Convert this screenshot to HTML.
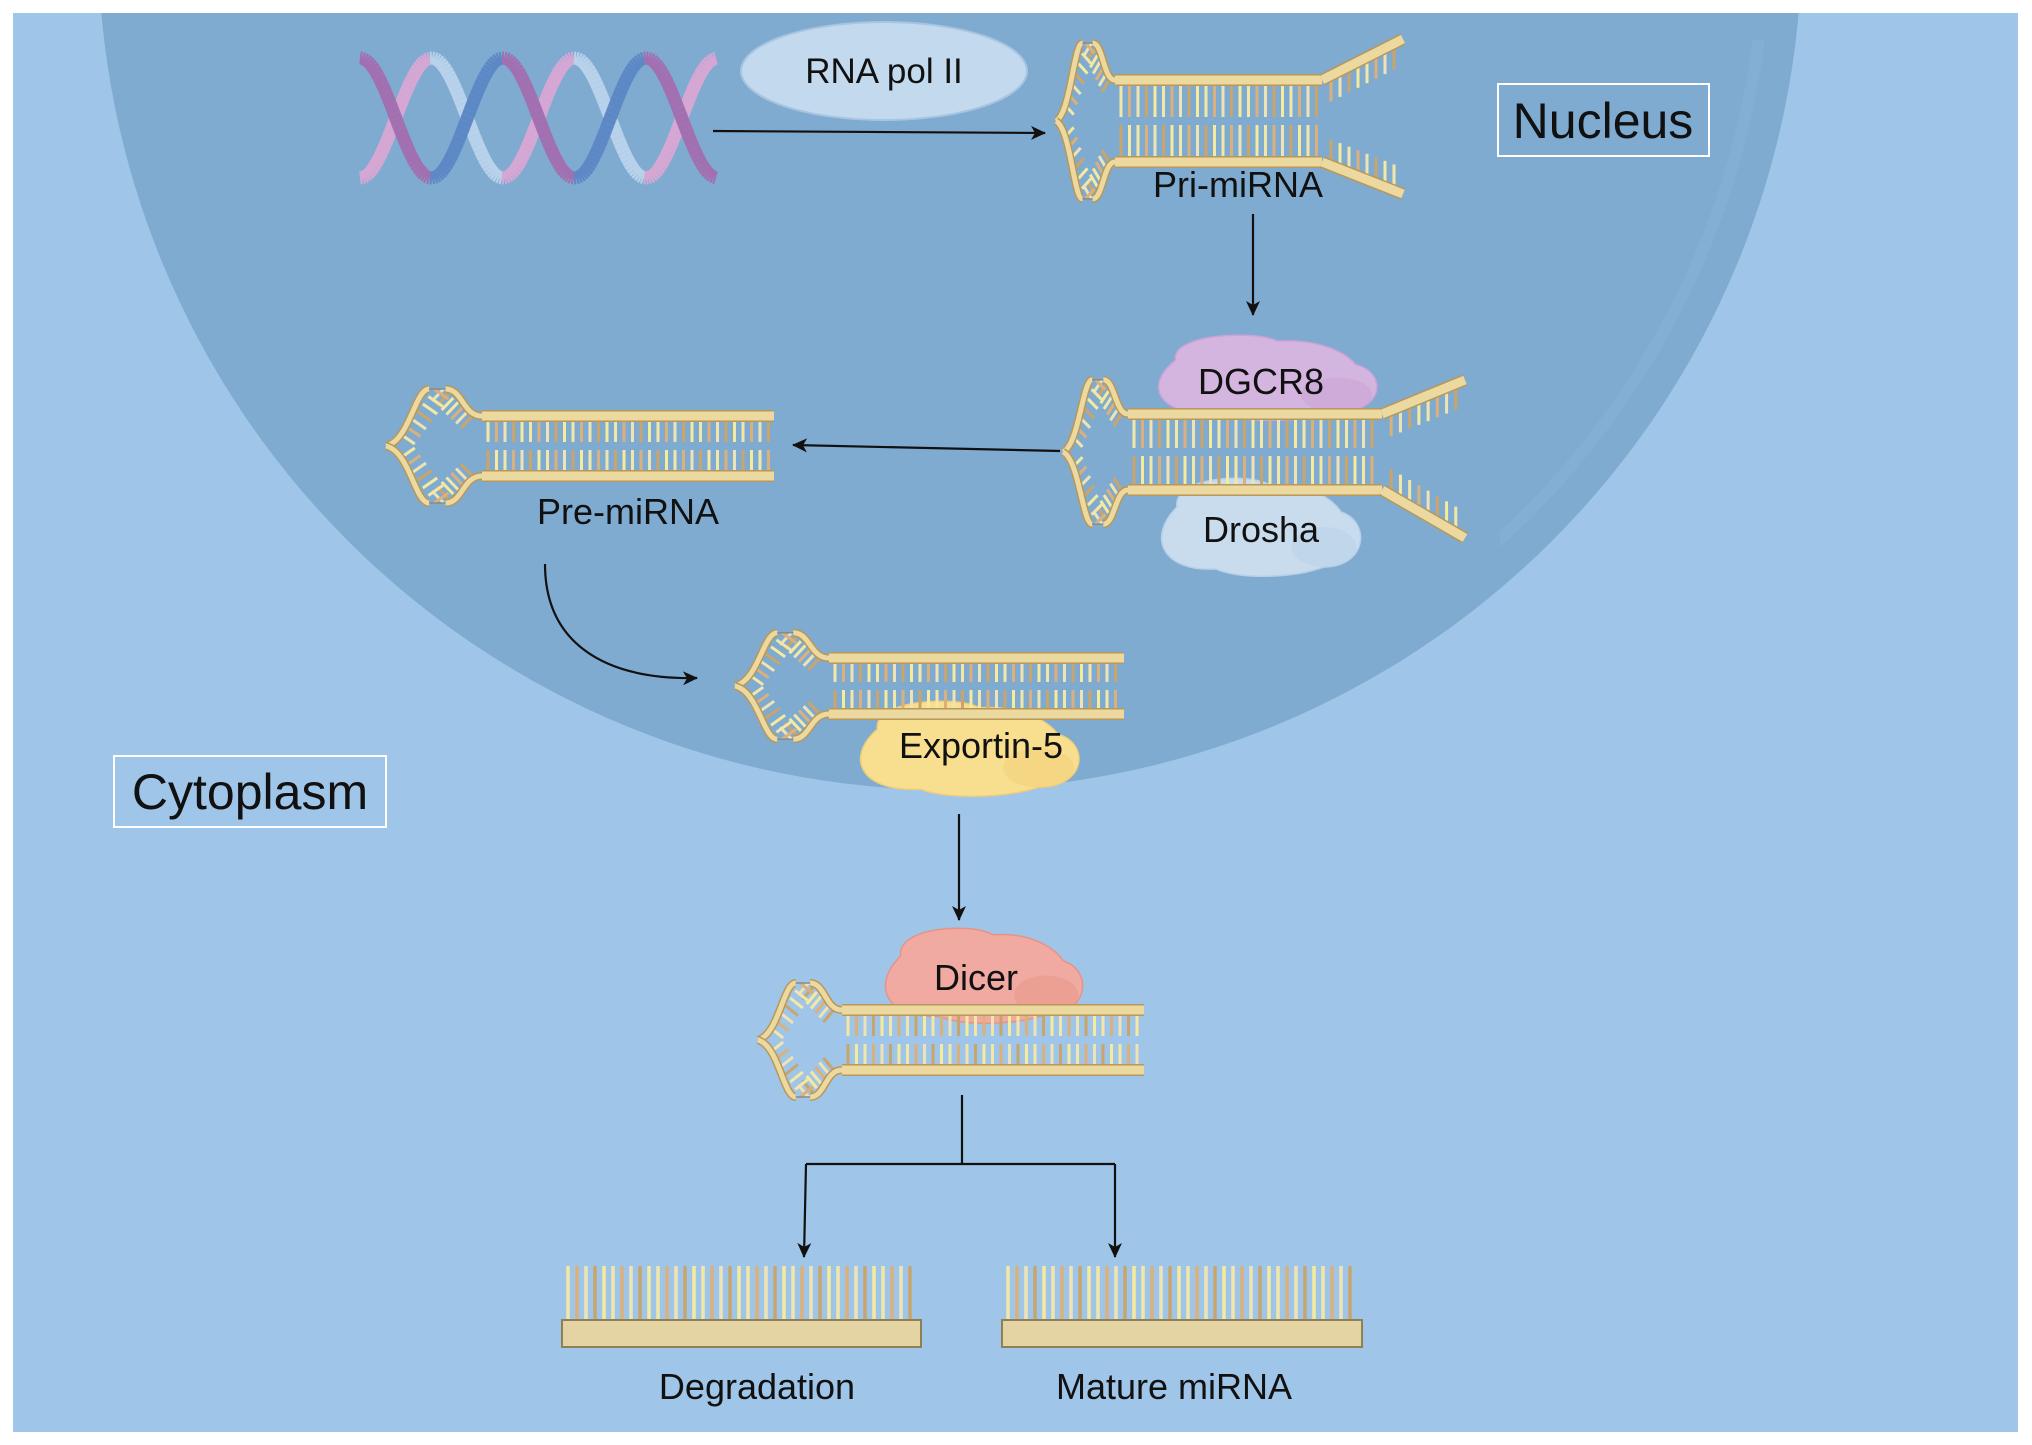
<!DOCTYPE html>
<html><head><meta charset="utf-8">
<style>
html,body{margin:0;padding:0;background:#fff;}
svg{display:block;}
text{font-family:"Liberation Sans",sans-serif;fill:#111;}
</style></head>
<body>
<svg id="s" xmlns="http://www.w3.org/2000/svg" width="2032" height="1445" viewBox="0 0 2032 1445">
<defs>
<marker id="ah" markerWidth="16" markerHeight="16" refX="14" refY="8" orient="auto" markerUnits="userSpaceOnUse">
<path d="M0,1 L15,8 L0,15 L4,8 Z" fill="#111"/>
</marker>
<clipPath id="cl"><rect x="13" y="13" width="2005" height="1419"/></clipPath>
<clipPath id="cr"><rect x="1500" y="40" width="300" height="600"/></clipPath>
</defs>
<rect x="0" y="0" width="2032" height="1445" fill="#fff"/>
<rect x="13" y="13" width="2005" height="1419" fill="#9fc5e8"/>
<g clip-path="url(#cl)">
<circle cx="950" cy="-62" r="852" fill="#7fabd1"/>
</g>
<g clip-path="url(#cr)">
<circle cx="950" cy="-62" r="815" fill="none" stroke="#8ab3d6" stroke-width="12" opacity="0.45"/>
</g>
<rect x="1498" y="84" width="211" height="72" fill="none" stroke="#fff" stroke-width="2"/>
<rect x="114" y="756" width="272" height="71" fill="none" stroke="#fff" stroke-width="2"/>
<ellipse cx="884" cy="71" rx="143" ry="49" fill="#c2d9ee" stroke="#a9c4e0" stroke-width="2"/>
<g id="dyn"></g>
<g fill="none" stroke="#111" stroke-width="2.2">
<line x1="713" y1="131" x2="1045" y2="133" marker-end="url(#ah)"/>
<line x1="1253" y1="214" x2="1253" y2="315" marker-end="url(#ah)"/>
<line x1="1060" y1="451" x2="793" y2="445" marker-end="url(#ah)"/>
<path d="M545,564 C545,640 600,680 697,678" marker-end="url(#ah)"/>
<line x1="959" y1="814" x2="959" y2="920" marker-end="url(#ah)"/>
<line x1="962" y1="1095" x2="962" y2="1164"/>
<line x1="806" y1="1164" x2="1115" y2="1164"/>
<line x1="806" y1="1164" x2="804" y2="1257" marker-end="url(#ah)"/>
<line x1="1115" y1="1164" x2="1115" y2="1257" marker-end="url(#ah)"/>
</g>
<g id="txt">
<text x="884" y="83" font-size="35" text-anchor="middle">RNA pol II</text>
<text x="1603" y="138" font-size="50" text-anchor="middle">Nucleus</text>
<text x="250" y="809" font-size="50" text-anchor="middle">Cytoplasm</text>
<text x="1238" y="197" font-size="36" text-anchor="middle">Pri-miRNA</text>
<text x="1261" y="394" font-size="36" text-anchor="middle">DGCR8</text>
<text x="1261" y="542" font-size="36" text-anchor="middle">Drosha</text>
<text x="628" y="524" font-size="36" text-anchor="middle">Pre-miRNA</text>
<text x="981" y="758" font-size="36" text-anchor="middle">Exportin-5</text>
<text x="976" y="990" font-size="36" text-anchor="middle">Dicer</text>
<text x="757" y="1399" font-size="36" text-anchor="middle">Degradation</text>
<text x="1174" y="1399" font-size="36" text-anchor="middle">Mature miRNA</text>
</g>
</svg>
<script>
(function(){
var g=document.getElementById("dyn");
var out="";
var tc=["#f3e7a8","#dcb07a","#efe3b4","#c9a56c","#f6ea9c"];
function line(x1,y1,x2,y2,c,w){out+='<line x1="'+x1+'" y1="'+y1+'" x2="'+x2+'" y2="'+y2+'" stroke="'+c+'" stroke-width="'+w+'" stroke-linecap="butt"/>';}
function strand(x1,y1,x2,y2){line(x1,y1,x2,y2,"#b8985a",12);line(x1,y1,x2,y2,"#ecd9a0",9);}
function blob(x,y,w,h,c,c2){
 var p="M"+(x+w*0.12)+","+(y+h*0.3)+" C"+(x+w*0.1)+","+(y)+" "+(x+w*0.45)+","+(y-h*0.05)+" "+(x+w*0.55)+","+(y+h*0.08)
 +" C"+(x+w*0.75)+","+(y+h*0.05)+" "+(x+w*0.85)+","+(y+h*0.25)+" "+(x+w*0.88)+","+(y+h*0.35)
 +" C"+(x+w*1.02)+","+(y+h*0.45)+" "+(x+w*1.0)+","+(y+h*0.9)+" "+(x+w*0.8)+","+(y+h*0.9)
 +" C"+(x+w*0.65)+","+(y+h*1.02)+" "+(x+w*0.4)+","+(y+h*1.02)+" "+(x+w*0.3)+","+(y+h*0.92)
 +" C"+(x+w*0.05)+","+(y+h*0.95)+" "+(x-w*0.02)+","+(y+h*0.6)+" "+(x+w*0.12)+","+(y+h*0.3)+" Z";
 out+='<path d="'+p+'" fill="'+c+'" stroke="'+c2+'" stroke-width="1.5"/>';
 out+='<ellipse cx="'+(x+w*0.8)+'" cy="'+(y+h*0.7)+'" rx="'+(w*0.15)+'" ry="'+(h*0.2)+'" fill="'+c2+'" opacity="0.5"/>';
}
function hairpin(x0,my,off,lw,end,fork){
 var sx=x0+lw, lh=off*1.9;
 for(var s=-1;s<=1;s+=2){
  for(var i=0;i<7;i++){
   var t=i/6, ax=x0+lw*0.15+lw*0.35*t, ay=my+s*(off*0.4+(lh-off*0.4)*t);
   line(ax,ay,ax+lw*0.15,ay-s*10,tc[i%5],3);
   var bx=x0+lw*0.6+lw*0.3*t, by=my+s*(lh-(lh-off)*t);
   line(bx,by,bx-lw*0.12,by-s*12,tc[(i+2)%5],3);
  }
  var p1="M"+x0+","+my+" C"+(x0+lw*0.25)+","+(my+s*off*0.2)+" "+(x0+lw*0.3)+","+(my+s*lh)+" "+(x0+lw*0.45)+","+(my+s*lh);
  var p2="M"+(x0+lw*0.62)+","+(my+s*lh)+" C"+(x0+lw*0.8)+","+(my+s*lh)+" "+(x0+lw*0.8)+","+(my+s*off)+" "+sx+","+(my+s*off);
  out+='<path d="'+p1+'" fill="none" stroke="#b8985a" stroke-width="8"/><path d="'+p1+'" fill="none" stroke="#ecd9a0" stroke-width="5"/>';
  out+='<path d="'+p2+'" fill="none" stroke="#b8985a" stroke-width="8"/><path d="'+p2+'" fill="none" stroke="#ecd9a0" stroke-width="5"/>';
  line(x0+lw*0.45,my+s*lh,x0+lw*0.62,my+s*lh,"#8a8a8a",1.5);
 }
 var k=0;
 for(var x=sx+6;x<end-3;x+=8.5){
  line(x,my-off+5,x,my-4,tc[k%5],3);
  line(x,my+off-5,x,my+4,tc[(k+3)%5],3);
  k++;
 }
 strand(sx,my-off,end,my-off);
 strand(sx,my+off,end,my+off);
 if(fork){
  var fx=fork[0], fy1=fork[1], fy2=fork[2];
  var n=Math.floor((fx-end)/8.5);
  for(var i=1;i<n;i++){
   var t=i/n, x=end+(fx-end)*t;
   var y1=(my-off)+(fy1-(my-off))*t, y2=(my+off)+(fy2-(my+off))*t;
   line(x,y1+5,x,y1+26,tc[i%5],3);
   line(x,y2-5,x,y2-26,tc[(i+2)%5],3);
  }
  strand(end,my-off,fx,fy1);
  strand(end,my+off,fx,fy2);
 }
}
function helix(){
 var x1=360,x2=717,my=118,A=60,P=143;
 var cols=[["#d7a7d4","#a26fb0"],["#5d88c6","#b8d2ec"]];
 for(var st=0;st<2;st++){
  var prev=null;
  for(var x=x1;x<=x2;x+=2){
   var ph=(x-x1)/P*2*Math.PI+st*Math.PI;
   var y=my+A*Math.cos(ph);
   if(prev){
    var half=Math.floor(((x-x1)/P*2+st))%2;
    var c=cols[(st+half)%2][half];
    line(prev[0],prev[1],x,y,c,13);
   }
   prev=[x,y];
  }
 }
}
helix();
blob(1147,334,237,87,"#d4b5df","#c9a2d6");
blob(1151,477,216,100,"#c9dcee","#b7cfe7");
blob(849,700,237,97,"#f8df90","#f0cd76");
blob(875,927,214,97,"#f0aaa1","#e79486");
hairpin(1056,121,41,59,1322,[1403,39,194]);
hairpin(1063,452,38,65,1382,[1465,380,538]);
hairpin(386,446,30,96,774,null);
hairpin(735,686,28,94,1124,null);
hairpin(758,1040,30,84,1144,null);
function bar(x1,x2){
 var k=0;
 for(var x=x1+6;x<x2-3;x+=9){line(x,1266,x,1320,tc[k%5],3.5);k++;}
 out+='<rect x="'+x1+'" y="1320" width="'+(x2-x1)+'" height="27" fill="#e4d4a3" stroke="#8f7f55" stroke-width="2"/>';
}
bar(562,921);bar(1002,1362);
g.innerHTML=out;
})();
</script>
</body></html>
